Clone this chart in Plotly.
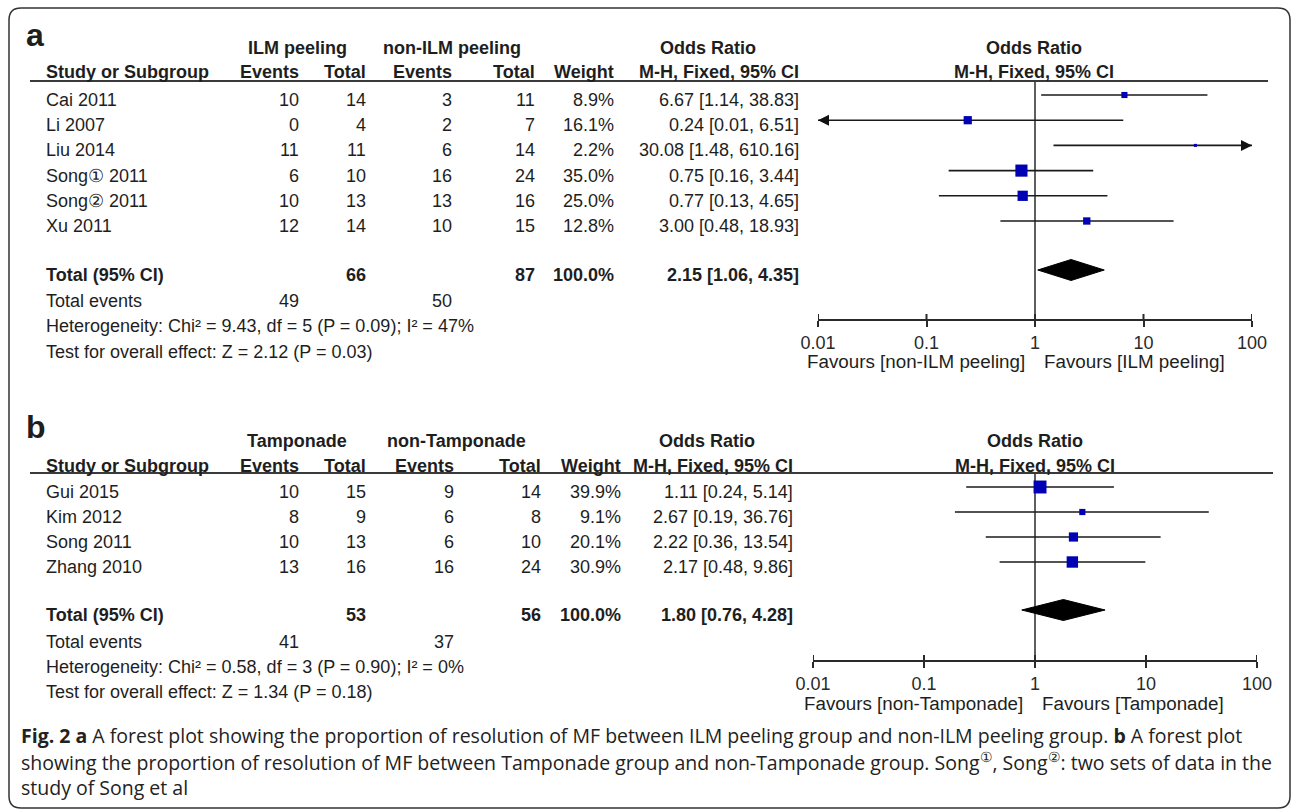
import math
import plotly.graph_objects as go

W, H = 1292, 812

# ---------------- data: panel a ----------------
studies_a = ["Cai 2011", "Li 2007", "Liu 2014", "Song\u2460 2011", "Song\u2461 2011", "Xu 2011"]
ev_ilm = [10, 0, 11, 6, 10, 12]
tot_ilm = [14, 4, 11, 10, 13, 14]
ev_nonilm = [3, 2, 6, 16, 13, 10]
tot_nonilm = [11, 7, 14, 24, 16, 15]
weight_a = [8.9, 16.1, 2.2, 35.0, 25.0, 12.8]
or_a = [6.67, 0.24, 30.08, 0.75, 0.77, 3.00]
lo_a = [1.14, 0.01, 1.48, 0.16, 0.13, 0.48]
hi_a = [38.83, 6.51, 610.16, 3.44, 4.65, 18.93]
total_a = {"n1": 66, "n2": 87, "w": "100.0%", "or": 2.15, "lo": 1.06, "hi": 4.35, "ev1": 49, "ev2": 50}
het_a = "Heterogeneity: Chi\u00b2 = 9.43, df = 5 (P = 0.09); I\u00b2 = 47%"
test_a = "Test for overall effect: Z = 2.12 (P = 0.03)"
groups_a = ["ILM peeling", "non-ILM peeling"]
favours_a = ["Favours [non-ILM peeling]", "Favours [ILM peeling]"]

# ---------------- data: panel b ----------------
studies_b = ["Gui 2015", "Kim 2012", "Song 2011", "Zhang 2010"]
ev_t = [10, 8, 10, 13]
tot_t = [15, 9, 13, 16]
ev_nt = [9, 6, 6, 16]
tot_nt = [14, 8, 10, 24]
weight_b = [39.9, 9.1, 20.1, 30.9]
or_b = [1.11, 2.67, 2.22, 2.17]
lo_b = [0.24, 0.19, 0.36, 0.48]
hi_b = [5.14, 36.76, 13.54, 9.86]
total_b = {"n1": 53, "n2": 56, "w": "100.0%", "or": 1.80, "lo": 0.76, "hi": 4.28, "ev1": 41, "ev2": 37}
het_b = "Heterogeneity: Chi\u00b2 = 0.58, df = 3 (P = 0.90); I\u00b2 = 0%"
test_b = "Test for overall effect: Z = 1.34 (P = 0.18)"
groups_b = ["Tamponade", "non-Tamponade"]
favours_b = ["Favours [non-Tamponade]", "Favours [Tamponade]"]

tick_vals = [0.01, 0.1, 1, 10, 100]
tick_text = ["0.01", "0.1", "1", "10", "100"]
x_min, x_max = 0.01, 100

caption = [
    "<b>Fig. 2 a</b> A forest plot showing the proportion of resolution of MF between ILM peeling group and non-ILM peeling group. <b>b</b> A forest plot",
    "showing the proportion of resolution of MF between Tamponade group and non-Tamponade group. Song<sup>\u2460</sup>, Song<sup>\u2461</sup>: two sets of data in the",
    "study of Song et al",
]

# ---------------- helpers ----------------
FONT = "Liberation Sans, Arial, sans-serif"
TXT = "#1e1e1e"
FS = 18


def px(x):
    return x / W


def py(y):
    return 1 - y / H


annotations = []


def T(x, y, text, anchor="left", bold=False, size=FS, family=FONT, color=TXT):
    if bold:
        text = "<b>" + text + "</b>"
    annotations.append(dict(
        x=px(x), y=py(y), xref="paper", yref="paper", text=text, showarrow=False,
        xanchor=anchor, yanchor="middle", font=dict(family=family, size=size, color=color),
        borderpad=0,
    ))


fig = go.Figure()
shapes = []


def panel(cfg):
    ax = cfg["xaxis"]
    ya = cfg["yaxis"]
    # labels and headers
    T(cfg["lab_x"], cfg["lab_y"], cfg["label"], "left", True, 32)
    T(cfg["g1_c"], cfg["gy"], cfg["groups"][0], "center", True)
    T(cfg["g2_c"], cfg["gy"], cfg["groups"][1], "center", True)
    T(cfg["or_c"], cfg["gy"], "Odds Ratio", "center", True)
    T(cfg["fc"], cfg["gy"], "Odds Ratio", "center", True)
    hy = cfg["hy"]
    T(45, hy, "Study or Subgroup", "left", True)
    cols = cfg["cols"]
    T(cols[0], hy, "Events", "right", True)
    T(cols[1], hy, "Total", "right", True)
    T(cols[2], hy, "Events", "right", True)
    T(cols[3], hy, "Total", "right", True)
    T(cols[4], hy, "Weight", "right", True)
    T(cols[5], hy, "M-H, Fixed, 95% CI", "right", True)
    T(cfg["fc"], hy, "M-H, Fixed, 95% CI", "center", True)
    shapes.append(dict(type="line", xref="paper", yref="paper", x0=px(30), x1=px(cfg["line_r"]),
                       y0=py(cfg["line_y"]), y1=py(cfg["line_y"]), line=dict(color="#3a3a3a", width=2)))
    # study rows
    n = len(cfg["studies"])
    text_y = [cfg["row0"] + cfg["pitch"] * i for i in range(n)]
    mark_y = [t - 5 for t in text_y]
    for i in range(n):
        y = text_y[i]
        T(45, y, cfg["studies"][i])
        T(cols[0], y, str(cfg["e1"][i]), "right")
        T(cols[1], y, str(cfg["t1"][i]), "right")
        T(cols[2], y, str(cfg["e2"][i]), "right")
        T(cols[3], y, str(cfg["t2"][i]), "right")
        T(cols[4], y, "%.1f%%" % cfg["w"][i], "right")
        T(cols[5], y, "%.2f [%.2f, %.2f]" % (cfg["or"][i], cfg["lo"][i], cfg["hi"][i]), "right")
    tot = cfg["total"]
    ty = cfg["tot_y"]
    T(45, ty, "Total (95% CI)", "left", True)
    T(cols[1], ty, str(tot["n1"]), "right", True)
    T(cols[3], ty, str(tot["n2"]), "right", True)
    T(cols[4], ty, tot["w"], "right", True)
    T(cols[5], ty, "%.2f [%.2f, %.2f]" % (tot["or"], tot["lo"], tot["hi"]), "right", True)
    T(45, cfg["ev_y"], "Total events")
    T(cols[0], cfg["ev_y"], str(tot["ev1"]), "right")
    T(cols[2], cfg["ev_y"], str(tot["ev2"]), "right")
    T(45, cfg["het_y"], cfg["het"])
    T(45, cfg["test_y"], cfg["test"])
    T(cfg["fav_split"] - 9, cfg["fav_y"], cfg["favours"][0], "right", size=18.8)
    T(cfg["fav_split"] + 8, cfg["fav_y"], cfg["favours"][1], "left", size=18.8)

    # vertical null line
    fig.add_trace(go.Scatter(x=[1, 1], y=[cfg["line_y"], cfg["axis_y"]], mode="lines",
                             line=dict(color="#2a2a2a", width=1.5), xaxis=ax, yaxis=ya,
                             hoverinfo="skip", showlegend=False))
    # CI lines
    for i in range(n):
        lo = max(cfg["lo"][i], x_min)
        hi = min(cfg["hi"][i], x_max)
        fig.add_trace(go.Scatter(x=[lo, hi], y=[mark_y[i], mark_y[i]], mode="lines",
                                 line=dict(color="#1a1a1a", width=1.6), xaxis=ax, yaxis=ya,
                                 hoverinfo="skip", showlegend=False, cliponaxis=False))
        if cfg["lo"][i] <= x_min:
            fig.add_trace(go.Scatter(x=[x_min], y=[mark_y[i]], mode="markers",
                                     marker=dict(symbol="arrow-left", size=11, color="#111"),
                                     xaxis=ax, yaxis=ya, showlegend=False, cliponaxis=False))
        if cfg["hi"][i] >= x_max:
            fig.add_trace(go.Scatter(x=[x_max], y=[mark_y[i]], mode="markers",
                                     marker=dict(symbol="arrow-right", size=11, color="#111"),
                                     xaxis=ax, yaxis=ya, showlegend=False, cliponaxis=False))
    # squares, area proportional to weight
    fig.add_trace(go.Scatter(x=cfg["or"], y=mark_y, mode="markers",
                             marker=dict(symbol="square", color="#0000b4",
                                         size=[2.05 * math.sqrt(w) for w in cfg["w"]],
                                         line=dict(width=0), opacity=1),
                             xaxis=ax, yaxis=ya, showlegend=False, cliponaxis=False))
    # diamond
    dy = cfg["tot_y"] - 5
    fig.add_trace(go.Scatter(x=[tot["lo"], tot["or"], tot["hi"], tot["or"], tot["lo"]],
                             y=[dy, dy - 10.5, dy, dy + 10.5, dy], mode="lines", fill="toself",
                             fillcolor="#000000", line=dict(color="#000000", width=1),
                             xaxis=ax, yaxis=ya, showlegend=False, hoverinfo="skip"))
    # upper halves of the axis ticks
    xs, ys = [], []
    for t in tick_vals:
        xs += [t, t, None]
        ys += [cfg["axis_y"] - 6, cfg["axis_y"], None]
    fig.add_trace(go.Scatter(x=xs, y=ys, mode="lines", line=dict(color="#2a2a2a", width=2),
                             xaxis=ax, yaxis=ya, showlegend=False, hoverinfo="skip", cliponaxis=False))


cfg_a = dict(xaxis="x", yaxis="y", label="a", lab_x=25, lab_y=35, groups=groups_a,
             g1_c=297, g2_c=452, or_c=708, fc=1034, gy=48, hy=72, line_y=81, line_r=1268,
             cols=[300, 367, 453, 536, 615, 800], studies=studies_a, e1=ev_ilm, t1=tot_ilm,
             e2=ev_nonilm, t2=tot_nonilm, w=weight_a, lo=lo_a, hi=hi_a,
             row0=100, pitch=25.2, total=total_a, tot_y=275, ev_y=301, het_y=326, test_y=352,
             het=het_a, test=test_a, favours=favours_a, fav_split=1035, fav_y=362, axis_y=320)
cfg_a["or"] = or_a
cfg_b = dict(xaxis="x2", yaxis="y2", label="b", lab_x=25, lab_y=427, groups=groups_b,
             g1_c=297, g2_c=456, or_c=707, fc=1035, gy=441, hy=466, line_y=473, line_r=1273,
             cols=[300, 367, 455, 542, 622, 794], studies=studies_b, e1=ev_t, t1=tot_t,
             e2=ev_nt, t2=tot_nt, w=weight_b, lo=lo_b, hi=hi_b,
             row0=492, pitch=25, total=total_b, tot_y=615, ev_y=642, het_y=667, test_y=692,
             het=het_b, test=test_b, favours=favours_b, fav_split=1033, fav_y=703, axis_y=661)
cfg_b["or"] = or_b

panel(cfg_a)
panel(cfg_b)

# caption
for i, line in enumerate(caption):
    T(20, 735 + 26 * i, line, "left", False, 19.5, "Open Sans, sans-serif", "#222")

# rounded border
x0, y0, x1, y1, r = 9, 8, 1290, 808, 12
path = ("M {a},{b} L {c},{b} Q {d},{b} {d},{e} L {d},{f} Q {d},{g} {c},{g} "
        "L {a},{g} Q {h},{g} {h},{f} L {h},{e} Q {h},{b} {a},{b} Z").format(
    a=px(x0 + r), b=py(y0), c=px(x1 - r), d=px(x1), e=py(y0 + r), f=py(y1 - r),
    g=py(y1), h=px(x0))
shapes.append(dict(type="path", xref="paper", yref="paper", path=path,
                   line=dict(color="#333", width=1.5)))


def xaxis_cfg(left, right, axis_y):
    return dict(type="log", range=[math.log10(x_min), math.log10(x_max)],
                domain=[px(left), px(right)], anchor="free", position=py(axis_y),
                showline=True, linecolor="#2a2a2a", linewidth=2, ticks="outside", ticklen=6,
                tickwidth=2, tickcolor="#2a2a2a", tickvals=tick_vals, ticktext=tick_text,
                showgrid=False, zeroline=False, automargin=False,
                tickfont=dict(family=FONT, size=FS, color="#2a2a2a"), fixedrange=True)


fig.update_layout(
    width=W, height=H, autosize=False,
    margin=dict(l=0, r=0, t=0, b=0, pad=0, autoexpand=False),
    paper_bgcolor="white", plot_bgcolor="rgba(0,0,0,0)",
    xaxis=xaxis_cfg(818, 1252, 320),
    xaxis2=xaxis_cfg(813, 1257, 661),
    yaxis=dict(domain=[0, 1], range=[H, 0], visible=False, fixedrange=True, automargin=False),
    yaxis2=dict(domain=[0, 1], range=[H, 0], visible=False, fixedrange=True, anchor="x2",
                automargin=False),
    annotations=annotations, shapes=shapes, showlegend=False,
)

fig.write_html("out.html", config={"displayModeBar": False},
               post_script="document.body.style.margin='0';document.body.style.overflow='hidden';")
